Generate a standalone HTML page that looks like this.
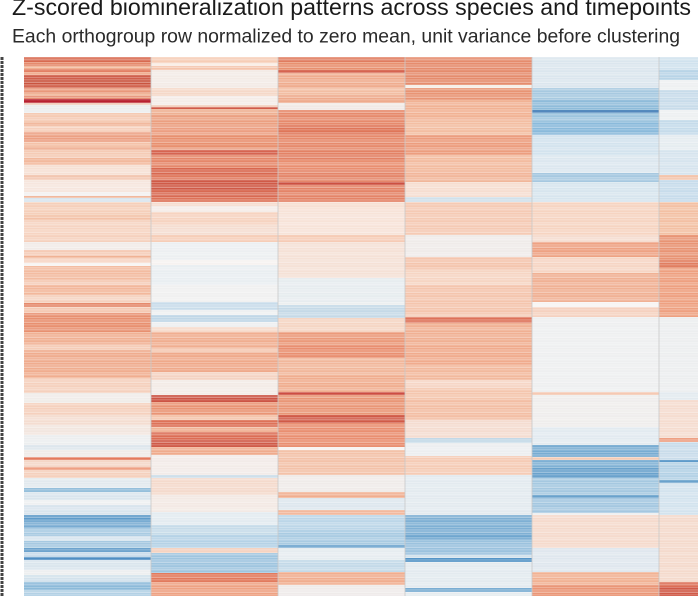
<!DOCTYPE html>
<html><head><meta charset="utf-8"><style>
html,body{margin:0;padding:0;background:#fff;}
svg{display:block;}
</style></head><body>
<svg width="698" height="596" viewBox="0 0 698 596" xmlns="http://www.w3.org/2000/svg">
<defs>
<pattern id="rows" x="0" y="57" width="10" height="2.5" patternUnits="userSpaceOnUse">
<rect x="0" y="0" width="10" height="0.7" fill="#ffffff" fill-opacity="0.35"/>
</pattern>
<pattern id="rows2" x="0" y="58" width="10" height="7.5" patternUnits="userSpaceOnUse">
<rect x="0" y="0" width="10" height="2.5" fill="#ffffff" fill-opacity="0.12"/>
</pattern>
</defs>
<rect width="698" height="596" fill="#fff"/>
<text x="12" y="15" font-family="Liberation Sans, Arial, sans-serif" font-size="23" fill="#1a1a1a" textLength="679" lengthAdjust="spacingAndGlyphs">Z-scored biomineralization patterns across species and timepoints</text>
<text x="12" y="42.5" font-family="Liberation Sans, Arial, sans-serif" font-size="19" fill="#2a2a2a" textLength="668" lengthAdjust="spacingAndGlyphs">Each orthogroup row normalized to zero mean, unit variance before clustering</text>
<line x1="2" y1="57" x2="2" y2="596" stroke="#444" stroke-width="3" stroke-dasharray="3 1"/>

<!-- Column 1 -->
<g transform="translate(24,0)">
<rect y="57" width="127" height="5" fill="#d86a50"/>
<rect y="62" width="127" height="4" fill="#e58a6c"/>
<rect y="66" width="127" height="3" fill="#f0b090"/>
<rect y="69" width="127" height="3" fill="#e38064"/>
<rect y="72" width="127" height="3" fill="#efa585"/>
<rect y="75" width="127" height="5" fill="#d0604c"/>
<rect y="80" width="127" height="4" fill="#c9543f"/>
<rect y="84" width="127" height="4" fill="#d2644f"/>
<rect y="88" width="127" height="5" fill="#e9977a"/>
<rect y="93" width="127" height="3" fill="#f0b396"/>
<rect y="96" width="127" height="3" fill="#e58a6e"/>
<rect y="99" width="127" height="4" fill="#b8202f"/>
<rect y="103" width="127" height="2" fill="#f0c8b5"/>
<rect y="105" width="127" height="8" fill="#ecedee"/>
<rect y="113" width="127" height="9" fill="#f5cab3"/>
<rect y="122" width="127" height="4" fill="#f1b89d"/>
<rect y="126" width="127" height="6" fill="#f6d0bd"/>
<rect y="132" width="127" height="10" fill="#eca083"/>
<rect y="142" width="127" height="5" fill="#f4c2a8"/>
<rect y="147" width="127" height="3" fill="#eeaa8c"/>
<rect y="150" width="127" height="8" fill="#f5cbb5"/>
<rect y="158" width="127" height="7" fill="#f2b99d"/>
<rect y="165" width="127" height="10" fill="#f6e0d4"/>
<rect y="175" width="127" height="5" fill="#f2c6b0"/>
<rect y="180" width="127" height="12" fill="#f6e6de"/>
<rect y="192" width="127" height="4" fill="#f2f0ef"/>
<rect y="196" width="127" height="2" fill="#f1b89d"/>
<rect y="198" width="127" height="4" fill="#d8e5ee"/>
<rect y="202" width="127" height="13" fill="#f5cfba"/>
<rect y="215" width="127" height="5" fill="#f3c1a7"/>
<rect y="220" width="127" height="15" fill="#f6d4c2"/>
<rect y="235" width="127" height="7" fill="#f5d0bd"/>
<rect y="242" width="127" height="8" fill="#f1ebe8"/>
<rect y="250" width="127" height="6" fill="#f5cbb6"/>
<rect y="256" width="127" height="2" fill="#f0b294"/>
<rect y="258" width="127" height="5" fill="#f6d5c4"/>
<rect y="263" width="127" height="3" fill="#f7f4f2"/>
<rect y="266" width="127" height="14" fill="#f3bca1"/>
<rect y="280" width="127" height="5" fill="#f5cdb8"/>
<rect y="285" width="127" height="10" fill="#f2b79b"/>
<rect y="295" width="127" height="5" fill="#f5d3c1"/>
<rect y="300" width="127" height="3" fill="#f5d0bd"/>
<rect y="303" width="127" height="4" fill="#e58a6c"/>
<rect y="307" width="127" height="6" fill="#f4c9b3"/>
<rect y="313" width="127" height="19" fill="#e89070"/>
<rect y="332" width="127" height="13" fill="#f0b093"/>
<rect y="345" width="127" height="5" fill="#f5cdb8"/>
<rect y="350" width="127" height="18" fill="#efac8e"/>
<rect y="368" width="127" height="10" fill="#f0ad8f"/>
<rect y="378" width="127" height="15" fill="#f5d0bd"/>
<rect y="393" width="127" height="10" fill="#f0ece9"/>
<rect y="403" width="127" height="12" fill="#f5d0bd"/>
<rect y="415" width="127" height="10" fill="#f4ddd1"/>
<rect y="425" width="127" height="10" fill="#f2e6df"/>
<rect y="435" width="127" height="10" fill="#eceeef"/>
<rect y="445" width="127" height="5" fill="#dde6ec"/>
<rect y="450" width="127" height="7" fill="#f0ebe8"/>
<rect y="457" width="127" height="3" fill="#e3795c"/>
<rect y="460" width="127" height="7" fill="#f4d6c6"/>
<rect y="467" width="127" height="3" fill="#eea083"/>
<rect y="470" width="127" height="8" fill="#f5d0bd"/>
<rect y="478" width="127" height="10" fill="#e2e9ee"/>
<rect y="488" width="127" height="4" fill="#95bfdb"/>
<rect y="492" width="127" height="8" fill="#dae5ed"/>
<rect y="500" width="127" height="5" fill="#eef0f1"/>
<rect y="505" width="127" height="10" fill="#d8e4ed"/>
<rect y="515" width="127" height="5" fill="#5e9bca"/>
<rect y="520" width="127" height="8" fill="#79acd2"/>
<rect y="528" width="127" height="8" fill="#a9cbe2"/>
<rect y="536" width="127" height="5" fill="#d6e4ee"/>
<rect y="541" width="127" height="7" fill="#a6c9e1"/>
<rect y="548" width="127" height="4" fill="#6da3cd"/>
<rect y="552" width="127" height="5" fill="#c5daea"/>
<rect y="557" width="127" height="3" fill="#4f8ec3"/>
<rect y="560" width="127" height="10" fill="#dae5ed"/>
<rect y="570" width="127" height="5" fill="#edeff0"/>
<rect y="575" width="127" height="7" fill="#d3e2ec"/>
<rect y="582" width="127" height="8" fill="#8cbad9"/>
<rect y="590" width="127" height="6" fill="#b3d1e5"/>
</g>

<!-- Column 2 -->
<g transform="translate(151,0)">
<rect y="57" width="127" height="6" fill="#f6cdb6"/>
<rect y="63" width="127" height="3" fill="#f9ece4"/>
<rect y="66" width="127" height="4" fill="#f4c4ac"/>
<rect y="70" width="127" height="18" fill="#f3ebe6"/>
<rect y="88" width="127" height="8" fill="#f5d8c8"/>
<rect y="96" width="127" height="9" fill="#f4ece8"/>
<rect y="105" width="127" height="2" fill="#f3d0bf"/>
<rect y="107" width="127" height="2" fill="#d05a48"/>
<rect y="109" width="127" height="6" fill="#eeb092"/>
<rect y="115" width="127" height="10" fill="#eb9f80"/>
<rect y="125" width="127" height="10" fill="#ec9f82"/>
<rect y="135" width="127" height="13" fill="#e8906f"/>
<rect y="148" width="127" height="2" fill="#eba184"/>
<rect y="150" width="127" height="5" fill="#d66450"/>
<rect y="155" width="127" height="13" fill="#e5876a"/>
<rect y="168" width="127" height="7" fill="#d8684f"/>
<rect y="175" width="127" height="5" fill="#e07a5e"/>
<rect y="180" width="127" height="10" fill="#cf5a47"/>
<rect y="190" width="127" height="7" fill="#d86a52"/>
<rect y="197" width="127" height="5" fill="#dd7359"/>
<rect y="202" width="127" height="4" fill="#f6ddd0"/>
<rect y="206" width="127" height="6" fill="#f4ece8"/>
<rect y="212" width="127" height="13" fill="#f6d3c0"/>
<rect y="225" width="127" height="10" fill="#f5ddd1"/>
<rect y="235" width="127" height="7" fill="#f6cdb7"/>
<rect y="242" width="127" height="18" fill="#eceff1"/>
<rect y="260" width="127" height="5" fill="#f6f2f0"/>
<rect y="265" width="127" height="20" fill="#e9eef1"/>
<rect y="285" width="127" height="17" fill="#f0f0f0"/>
<rect y="302" width="127" height="8" fill="#c8dcea"/>
<rect y="310" width="127" height="5" fill="#eef0f1"/>
<rect y="315" width="127" height="7" fill="#c0d7e7"/>
<rect y="322" width="127" height="5" fill="#eef0f1"/>
<rect y="327" width="127" height="5" fill="#f6d9c9"/>
<rect y="332" width="127" height="16" fill="#f0ae90"/>
<rect y="348" width="127" height="4" fill="#f4c9b3"/>
<rect y="352" width="127" height="20" fill="#efa98a"/>
<rect y="372" width="127" height="8" fill="#f4d3c2"/>
<rect y="380" width="127" height="15" fill="#f3ebe6"/>
<rect y="395" width="127" height="7" fill="#cc5444"/>
<rect y="402" width="127" height="13" fill="#e99474"/>
<rect y="415" width="127" height="5" fill="#f4c4ab"/>
<rect y="420" width="127" height="7" fill="#dd7258"/>
<rect y="427" width="127" height="5" fill="#f0b396"/>
<rect y="432" width="127" height="8" fill="#dc6d54"/>
<rect y="440" width="127" height="7" fill="#cf5a48"/>
<rect y="447" width="127" height="8" fill="#efab8d"/>
<rect y="455" width="127" height="20" fill="#f2ebe8"/>
<rect y="475" width="127" height="3" fill="#cfdfea"/>
<rect y="478" width="127" height="17" fill="#f4dacc"/>
<rect y="495" width="127" height="17" fill="#f3e9e4"/>
<rect y="512" width="127" height="13" fill="#e3ebf0"/>
<rect y="525" width="127" height="10" fill="#c6dbe9"/>
<rect y="535" width="127" height="13" fill="#b5d2e6"/>
<rect y="548" width="127" height="5" fill="#f5d3c1"/>
<rect y="553" width="127" height="20" fill="#9fc5df"/>
<rect y="573" width="127" height="9" fill="#e27a5d"/>
<rect y="582" width="127" height="14" fill="#eea283"/>
</g>

<!-- Column 3 -->
<g transform="translate(278,0)">
<rect y="57" width="127" height="5" fill="#e07c5f"/>
<rect y="62" width="127" height="8" fill="#e8906f"/>
<rect y="70" width="127" height="3" fill="#d66450"/>
<rect y="73" width="127" height="15" fill="#efac8e"/>
<rect y="88" width="127" height="7" fill="#f2bea3"/>
<rect y="95" width="127" height="8" fill="#eeaa8c"/>
<rect y="103" width="127" height="7" fill="#f1e9e5"/>
<rect y="110" width="127" height="15" fill="#e68a6c"/>
<rect y="125" width="127" height="10" fill="#df7659"/>
<rect y="135" width="127" height="15" fill="#e68a6c"/>
<rect y="150" width="127" height="10" fill="#e38265"/>
<rect y="160" width="127" height="10" fill="#e98f70"/>
<rect y="170" width="127" height="12" fill="#e4866a"/>
<rect y="182" width="127" height="3" fill="#cc5040"/>
<rect y="185" width="127" height="17" fill="#e48468"/>
<rect y="202" width="127" height="8" fill="#f7e0d3"/>
<rect y="210" width="127" height="25" fill="#f7e3d8"/>
<rect y="235" width="127" height="7" fill="#f6cbb5"/>
<rect y="242" width="127" height="36" fill="#f5e1d6"/>
<rect y="278" width="127" height="24" fill="#e7ecef"/>
<rect y="302" width="127" height="3" fill="#eceff0"/>
<rect y="305" width="127" height="13" fill="#c5d9e7"/>
<rect y="318" width="127" height="14" fill="#f5d5c3"/>
<rect y="332" width="127" height="13" fill="#eb9a7a"/>
<rect y="345" width="127" height="13" fill="#e98f70"/>
<rect y="358" width="127" height="17" fill="#f1b79b"/>
<rect y="375" width="127" height="17" fill="#f0ad8f"/>
<rect y="392" width="127" height="3" fill="#cd4d41"/>
<rect y="395" width="127" height="20" fill="#e99676"/>
<rect y="415" width="127" height="8" fill="#d05a47"/>
<rect y="423" width="127" height="24" fill="#e98f71"/>
<rect y="447" width="127" height="3" fill="#f6f3f1"/>
<rect y="450" width="127" height="25" fill="#f3c2a9"/>
<rect y="475" width="127" height="17" fill="#efebe9"/>
<rect y="492" width="127" height="6" fill="#f0ad8f"/>
<rect y="498" width="127" height="12" fill="#dde7ee"/>
<rect y="510" width="127" height="5" fill="#f2b99e"/>
<rect y="515" width="127" height="15" fill="#bcd6e8"/>
<rect y="530" width="127" height="15" fill="#a9cbe2"/>
<rect y="545" width="127" height="3" fill="#6ba3cd"/>
<rect y="548" width="127" height="12" fill="#e6ecf0"/>
<rect y="560" width="127" height="12" fill="#c3d9e8"/>
<rect y="572" width="127" height="13" fill="#f0ad8f"/>
<rect y="585" width="127" height="11" fill="#efebea"/>
</g>

<!-- Column 4 -->
<g transform="translate(405,0)">
<rect y="57" width="127" height="28" fill="#e58c6d"/>
<rect y="85" width="127" height="3" fill="#f6efe9"/>
<rect y="88" width="127" height="12" fill="#e89474"/>
<rect y="100" width="127" height="20" fill="#f1b294"/>
<rect y="120" width="127" height="15" fill="#f3bea2"/>
<rect y="135" width="127" height="20" fill="#ec9d7e"/>
<rect y="155" width="127" height="15" fill="#f3bca0"/>
<rect y="170" width="127" height="12" fill="#f1b69a"/>
<rect y="182" width="127" height="15" fill="#f6ddd0"/>
<rect y="197" width="127" height="5" fill="#d1e0ea"/>
<rect y="202" width="127" height="33" fill="#f5cab4"/>
<rect y="235" width="127" height="22" fill="#efebe9"/>
<rect y="257" width="127" height="13" fill="#f4c5ad"/>
<rect y="270" width="127" height="15" fill="#f6d5c3"/>
<rect y="285" width="127" height="30" fill="#f4c5ad"/>
<rect y="315" width="127" height="2" fill="#f5d0bd"/>
<rect y="317" width="127" height="6" fill="#dd7158"/>
<rect y="323" width="127" height="22" fill="#f0b093"/>
<rect y="345" width="127" height="20" fill="#f0ab8d"/>
<rect y="365" width="127" height="15" fill="#f2b99d"/>
<rect y="380" width="127" height="8" fill="#f6d6c6"/>
<rect y="388" width="127" height="12" fill="#f4c6ae"/>
<rect y="400" width="127" height="20" fill="#f3bea4"/>
<rect y="420" width="127" height="18" fill="#f4dcd0"/>
<rect y="438" width="127" height="5" fill="#c3d8e7"/>
<rect y="443" width="127" height="13" fill="#eceef0"/>
<rect y="456" width="127" height="19" fill="#f5cbb5"/>
<rect y="475" width="127" height="40" fill="#e3eaef"/>
<rect y="515" width="127" height="20" fill="#7fb0d4"/>
<rect y="535" width="127" height="5" fill="#6fa6cf"/>
<rect y="540" width="127" height="15" fill="#9bc2de"/>
<rect y="555" width="127" height="3" fill="#d3e2ec"/>
<rect y="558" width="127" height="4" fill="#5595c7"/>
<rect y="562" width="127" height="26" fill="#e3eaef"/>
<rect y="588" width="127" height="4" fill="#7aadd3"/>
<rect y="592" width="127" height="4" fill="#e6ecf0"/>
</g>

<!-- Column 5 -->
<g transform="translate(532,0)">
<rect y="57" width="127" height="31" fill="#dbe6ee"/>
<rect y="88" width="127" height="12" fill="#a7c9e0"/>
<rect y="100" width="127" height="10" fill="#8fbcda"/>
<rect y="110" width="127" height="3" fill="#3b78b4"/>
<rect y="113" width="127" height="9" fill="#9cc4de"/>
<rect y="122" width="127" height="13" fill="#8abadb"/>
<rect y="135" width="127" height="20" fill="#d3e3ee"/>
<rect y="155" width="127" height="18" fill="#dce7ef"/>
<rect y="173" width="127" height="9" fill="#a6c8e0"/>
<rect y="182" width="127" height="20" fill="#d7e5ee"/>
<rect y="202" width="127" height="33" fill="#f6d4c1"/>
<rect y="235" width="127" height="7" fill="#f5dccf"/>
<rect y="242" width="127" height="15" fill="#eea283"/>
<rect y="257" width="127" height="16" fill="#f6d5c4"/>
<rect y="273" width="127" height="29" fill="#f0b194"/>
<rect y="302" width="127" height="5" fill="#f7f4f2"/>
<rect y="307" width="127" height="10" fill="#f5d1bf"/>
<rect y="317" width="127" height="75" fill="#eeeff0"/>
<rect y="392" width="127" height="3" fill="#f5c9b3"/>
<rect y="395" width="127" height="32" fill="#efedec"/>
<rect y="427" width="127" height="18" fill="#e2eaf0"/>
<rect y="445" width="127" height="12" fill="#78acd2"/>
<rect y="457" width="127" height="3" fill="#f3cbb5"/>
<rect y="460" width="127" height="8" fill="#7fb0d4"/>
<rect y="468" width="127" height="10" fill="#6aa2cc"/>
<rect y="478" width="127" height="17" fill="#a5c8e0"/>
<rect y="495" width="127" height="3" fill="#6aa2cc"/>
<rect y="498" width="127" height="15" fill="#a4c7e0"/>
<rect y="513" width="127" height="2" fill="#eeeff0"/>
<rect y="515" width="127" height="33" fill="#f5dacc"/>
<rect y="548" width="127" height="24" fill="#dfe7ee"/>
<rect y="572" width="127" height="13" fill="#f1b294"/>
<rect y="585" width="127" height="11" fill="#ea9677"/>
</g>

<!-- Column 6 -->
<g transform="translate(659,0)">
<rect y="57" width="39" height="13" fill="#d0e2ee"/>
<rect y="70" width="39" height="10" fill="#b8d4e7"/>
<rect y="80" width="39" height="10" fill="#eef0f1"/>
<rect y="90" width="39" height="20" fill="#c8dcea"/>
<rect y="110" width="39" height="10" fill="#edf0f1"/>
<rect y="120" width="39" height="15" fill="#c5dbea"/>
<rect y="135" width="39" height="15" fill="#e5ecf0"/>
<rect y="150" width="39" height="25" fill="#d6e4ee"/>
<rect y="175" width="39" height="5" fill="#f3c4ab"/>
<rect y="180" width="39" height="22" fill="#c7dceb"/>
<rect y="202" width="39" height="33" fill="#f3c0a3"/>
<rect y="235" width="39" height="25" fill="#e89474"/>
<rect y="260" width="39" height="8" fill="#e17e60"/>
<rect y="268" width="39" height="49" fill="#eea080"/>
<rect y="317" width="39" height="75" fill="#eceeef"/>
<rect y="392" width="39" height="8" fill="#e3eaef"/>
<rect y="400" width="39" height="38" fill="#f5dccf"/>
<rect y="438" width="39" height="4" fill="#eea083"/>
<rect y="442" width="39" height="18" fill="#c9dcea"/>
<rect y="460" width="39" height="2" fill="#5e9bca"/>
<rect y="462" width="39" height="18" fill="#b3d1e5"/>
<rect y="480" width="39" height="3" fill="#6aa2cc"/>
<rect y="483" width="39" height="32" fill="#d3e3ee"/>
<rect y="515" width="39" height="67" fill="#f4dacc"/>
<rect y="582" width="39" height="5" fill="#dc6d55"/>
<rect y="587" width="39" height="9" fill="#d05a48"/>
</g>

<rect x="24" y="57" width="674" height="539" fill="url(#rows)"/>
<rect x="24" y="57" width="674" height="539" fill="url(#rows2)"/>
<g stroke="#c8c8c8" stroke-width="1" stroke-opacity="0.8">
<line x1="151" y1="57" x2="151" y2="596"/>
<line x1="278" y1="57" x2="278" y2="596"/>
<line x1="405" y1="57" x2="405" y2="596"/>
<line x1="532" y1="57" x2="532" y2="596"/>
<line x1="659" y1="57" x2="659" y2="596"/>
</g>
</svg>
</body></html>
